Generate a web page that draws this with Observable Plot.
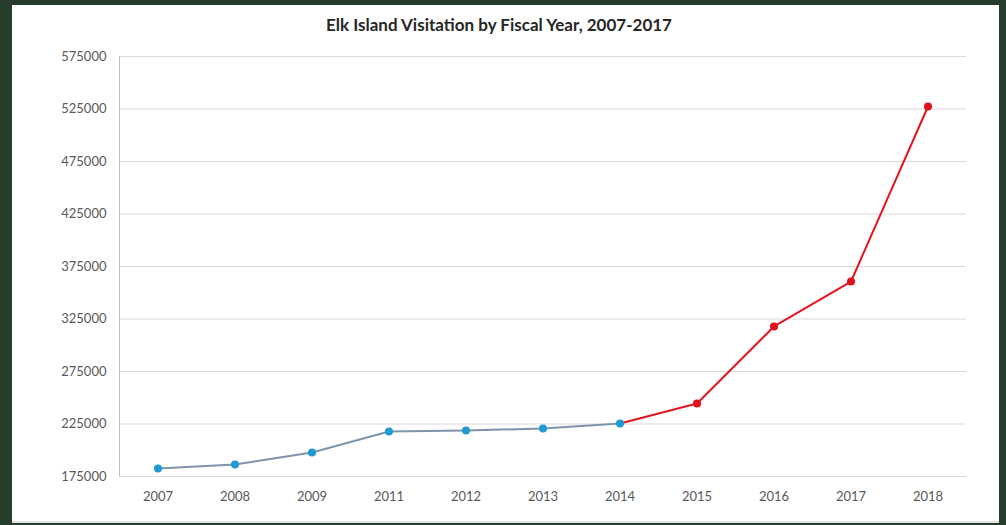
<!DOCTYPE html>
<html>
<head>
<meta charset="utf-8">
<script src="https://cdn.jsdelivr.net/npm/d3@7"></script>
<script src="https://cdn.jsdelivr.net/npm/@observablehq/plot@0.6"></script>
<style>
  html, body { margin: 0; padding: 0; background: #263d2c; width: 1006px; height: 525px; overflow: hidden; }
  #panel { position: absolute; left: 12px; top: 5px; width: 987px; height: 516px; background: #ffffff; border-bottom: 2px solid #e4e4e4; }
  #title { position: absolute; left: 0; top: 14px; width: 998px; text-align: center; font-family: Lato, "Open Sans", sans-serif; font-weight: bold; font-size: 17px; color: #262626; }
  #chart { position: absolute; left: 0; top: 0; }
</style>
</head>
<body>
<div id="panel"></div>
<div id="title">Elk Island Visitation by Fiscal Year, 2007-2017</div>
<div id="chart"></div>
<script>
const years = ["2007","2008","2009","2011","2012","2013","2014","2015","2016","2017","2018"];
const visits = [182600, 186400, 197900, 217900, 218800, 220700, 225500, 244500, 317900, 360700, 527400];
const yTicks = [175000, 225000, 275000, 325000, 375000, 425000, 475000, 525000, 575000];

const data = years.map((y, i) => ({year: y, visits: visits[i]}));
const early = data.slice(0, 7);
const late = data.slice(6);

const chart = Plot.plot({
  width: 1006,
  height: 525,
  marginLeft: 119,
  marginRight: 40,
  marginTop: 56,
  marginBottom: 49,
  style: { background: "transparent", fontFamily: "Lato, 'Open Sans', sans-serif", fontSize: "13px", color: "#595959" },
  x: { type: "band", domain: years, padding: 0, label: null, tickSize: 0, tickPadding: 15 },
  y: { domain: [175000, 575000], ticks: yTicks, tickFormat: d => String(d), label: null, tickSize: 0, tickPadding: 13 },
  marks: [
    Plot.gridY(yTicks, { stroke: "#d9d9d9", strokeOpacity: 1, strokeWidth: 1 }),
    Plot.ruleX([years[0]], { dx: -38.5, y1: 175000, y2: 575000, stroke: "#bfbfbf" }),
    Plot.line(early, { x: "year", y: "visits", stroke: "#7f93ab", strokeWidth: 2 }),
    Plot.line(late, { x: "year", y: "visits", stroke: "#e3151f", strokeWidth: 2 }),
    Plot.dot(early, { x: "year", y: "visits", r: 4, fill: "#1f9ad2", stroke: "none" }),
    Plot.dot(late.slice(1), { x: "year", y: "visits", r: 4, fill: "#e0101c", stroke: "none" })
  ]
});
document.getElementById("chart").appendChild(chart);
</script>
</body>
</html>
